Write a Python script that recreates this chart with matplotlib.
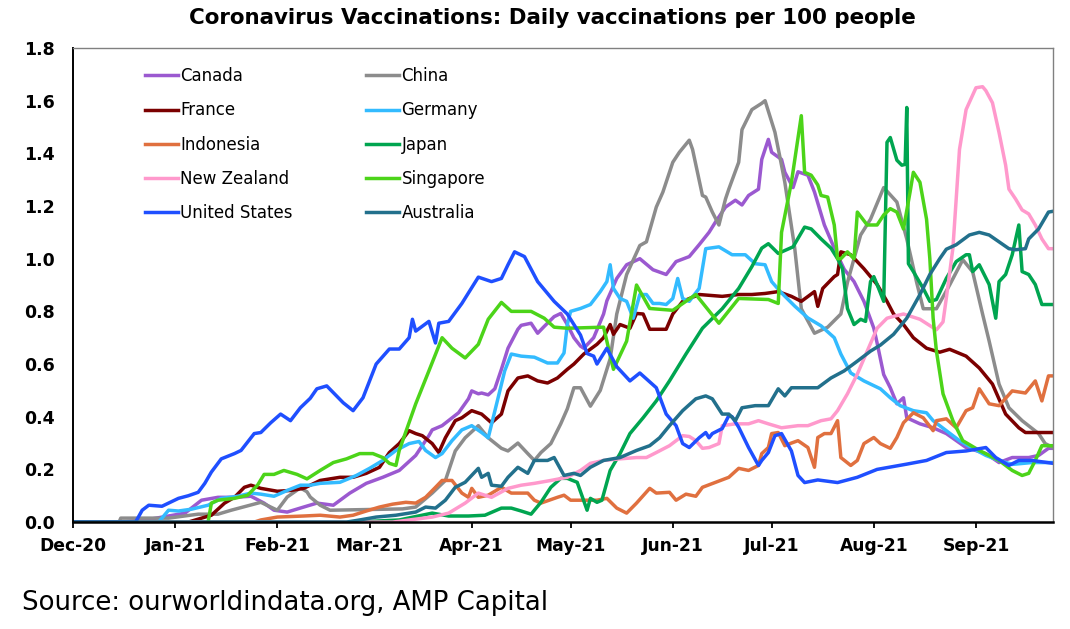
import matplotlib.pyplot as plt
import matplotlib.dates as mdates
import pandas as pd

# days counted from 1 Dec 2020, values = daily vaccinations per 100 people
start = pd.Timestamp("2020-12-01")

canada_d = [0, 15, 23, 34, 39, 44, 49, 54, 58, 61, 65, 70, 74, 79, 84, 89, 94, 99, 104, 108, 109, 112, 117, 120,
            121, 123, 124, 126, 128, 130, 132, 135, 136, 139, 141, 143, 146, 148, 150, 152, 154, 155, 158, 161,
            162, 165, 168, 172, 176, 180, 183, 187, 190, 193, 195, 198, 201, 203, 205, 208, 209, 211, 212, 215,
            216, 218.5, 220, 223, 225, 228, 231, 234, 237, 240, 243, 244, 246, 248, 250, 252, 253, 257, 261,
            265, 271, 277, 281, 285, 290, 293, 296, 297.4]
canada_v = [0, 0, 0.01, 0.034, 0.083, 0.094, 0.094, 0.098, 0.072, 0.045, 0.038, 0.057, 0.072, 0.064, 0.11,
            0.147, 0.17, 0.196, 0.253, 0.328, 0.35, 0.366, 0.415, 0.468, 0.498, 0.487, 0.49, 0.483, 0.506, 0.58,
            0.66, 0.732, 0.747, 0.755, 0.717, 0.743, 0.78, 0.792, 0.75, 0.70, 0.668, 0.66, 0.70, 0.79, 0.84,
            0.925, 0.977, 1.0, 0.958, 0.94, 0.989, 1.008, 1.053, 1.10, 1.14, 1.196, 1.222, 1.204, 1.24, 1.264,
            1.377, 1.453, 1.404, 1.377, 1.328, 1.27, 1.33, 1.317, 1.253, 1.128, 1.04, 0.96, 0.913, 0.838, 0.736,
            0.68, 0.56, 0.51, 0.449, 0.472, 0.396, 0.373, 0.358, 0.336, 0.283, 0.26, 0.226, 0.245, 0.245,
            0.253, 0.28, 0.28]

china_d = [0, 14, 14.5, 29, 38, 44, 48, 57, 62, 65, 69, 71, 72, 75, 78, 100, 104, 109, 113, 116, 119, 123,
           126, 130, 132, 135, 138, 140, 142, 145, 148, 150, 152, 154, 157, 160, 163, 165, 168, 172, 174, 177,
           179, 182, 184, 187, 188, 191, 192, 194, 196, 198, 199, 202, 203, 206, 209, 210, 213, 214.6, 216,
           219, 221, 225, 229, 233, 235, 239, 242, 246, 250, 253, 256, 258, 262, 266, 270, 273, 276, 278, 281,
           284, 288, 293, 295, 297.4]
china_v = [0, 0, 0.015, 0.015, 0.03, 0.03, 0.045, 0.075, 0.045, 0.095, 0.13, 0.115, 0.095, 0.064, 0.045,
           0.05, 0.057, 0.11, 0.158, 0.27, 0.32, 0.366, 0.32, 0.28, 0.27, 0.30, 0.26, 0.234, 0.264, 0.298,
           0.373, 0.43, 0.51, 0.51, 0.44, 0.50, 0.62, 0.79, 0.94, 1.05, 1.064, 1.196, 1.253, 1.366, 1.404, 1.45,
           1.415, 1.24, 1.234, 1.177, 1.128, 1.227, 1.264, 1.366, 1.49, 1.566, 1.59, 1.60, 1.48, 1.38, 1.29,
           1.04, 0.81, 0.717, 0.74, 0.79, 0.91, 1.09, 1.15, 1.27, 1.215, 1.075, 0.91, 0.81, 0.81, 0.90, 0.996,
           0.95, 0.79, 0.687, 0.524, 0.434, 0.385, 0.336, 0.298, 0.283]

france_d = [0, 35, 42, 46, 49, 52, 54, 57, 62, 66, 70, 75, 81, 85, 89, 93, 96, 99, 102, 104, 106, 109, 111,
            113, 116, 118, 121, 124, 127, 130, 132, 135, 138, 141, 144, 147, 150, 152, 155, 159, 161, 163, 164,
            166, 169, 171, 173, 175, 180, 182, 185, 190, 197, 202, 206, 210, 214, 218, 221, 225, 226, 227.5,
            231, 232, 233, 236, 240, 244, 247, 249, 252, 255, 259, 263, 266, 271, 275, 279, 283, 287, 289, 297.4]
france_v = [0, 0, 0.026, 0.072, 0.094, 0.132, 0.14, 0.128, 0.117, 0.12, 0.128, 0.158, 0.17, 0.17, 0.185,
            0.208, 0.264, 0.298, 0.347, 0.336, 0.328, 0.298, 0.264, 0.32, 0.385, 0.396, 0.423, 0.41, 0.377, 0.41,
            0.498, 0.547, 0.555, 0.536, 0.528, 0.547, 0.58, 0.60, 0.638, 0.675, 0.70, 0.75, 0.713, 0.75, 0.736,
            0.792, 0.79, 0.732, 0.732, 0.79, 0.838, 0.864, 0.857, 0.864, 0.864, 0.868, 0.875, 0.857, 0.838,
            0.875, 0.819, 0.887, 0.932, 0.94, 1.026, 1.015, 0.962, 0.902, 0.838, 0.79, 0.75, 0.70, 0.66, 0.645,
            0.656, 0.63, 0.585, 0.524, 0.41, 0.358, 0.34, 0.34]

germany_d = [0, 26, 29, 32, 36, 41, 45, 50, 54, 57, 61, 65, 69, 72, 75, 81, 86, 90, 94, 98, 102, 105, 107, 110,
             112, 115, 118, 121, 124, 126, 129, 131, 133, 136, 140, 144, 147, 149, 150, 151, 154, 157, 160, 162,
             163, 164, 166, 168, 170, 172, 174, 176, 178, 180, 182, 183.5, 185, 187, 190, 192, 196, 200, 204,
             207, 210, 212, 215, 219, 223, 227, 231, 233, 236, 240, 245, 248, 251, 255, 259, 261, 265, 269, 273,
             277, 281, 285, 291, 297.4]
germany_v = [0, 0, 0.045, 0.042, 0.049, 0.064, 0.09, 0.098, 0.11, 0.106, 0.098, 0.12, 0.14, 0.14, 0.147,
             0.151, 0.177, 0.204, 0.234, 0.272, 0.298, 0.306, 0.272, 0.245, 0.26, 0.309, 0.35, 0.366, 0.34, 0.32,
             0.472, 0.574, 0.638, 0.63, 0.626, 0.604, 0.604, 0.642, 0.75, 0.80, 0.811, 0.826, 0.875, 0.913, 0.977,
             0.887, 0.849, 0.838, 0.774, 0.864, 0.864, 0.83, 0.83, 0.826, 0.849, 0.925, 0.849, 0.838, 0.887,
             1.038, 1.045, 1.015, 1.015, 0.981, 0.977, 0.913, 0.87, 0.82, 0.775, 0.745, 0.70, 0.638, 0.566,
             0.536, 0.506, 0.472, 0.442, 0.423, 0.415, 0.385, 0.347, 0.309, 0.28, 0.253, 0.234, 0.219, 0.226,
             0.226]

indonesia_d = [0, 55, 57, 62, 70, 75, 81, 85, 89, 93, 97, 101, 104, 107, 110, 112, 115, 118, 120, 121, 123,
               126, 130, 133, 138, 140, 142, 147, 149, 151, 155, 159, 162, 165, 168, 171, 175, 177, 181, 183, 186,
               189, 191, 195, 199, 202, 205, 208, 209, 211, 212, 214, 216, 218, 220, 223, 225, 226, 228, 230, 232,
               233, 236, 238, 240, 243, 245, 248, 250, 252, 255, 258, 261, 262, 265, 268, 271, 273, 275, 278, 281,
               285, 289, 292, 294, 296, 297.4]
indonesia_v = [0, 0, 0.008, 0.019, 0.023, 0.026, 0.019, 0.026, 0.042, 0.057, 0.068, 0.075, 0.072, 0.094,
               0.132, 0.158, 0.158, 0.11, 0.094, 0.128, 0.094, 0.102, 0.132, 0.11, 0.11, 0.083, 0.072, 0.094,
               0.102, 0.083, 0.083, 0.083, 0.09, 0.053, 0.034, 0.072, 0.128, 0.11, 0.113, 0.083, 0.106, 0.098,
               0.132, 0.151, 0.17, 0.204, 0.196, 0.215, 0.26, 0.283, 0.336, 0.34, 0.29, 0.30, 0.309, 0.283, 0.208,
               0.321, 0.336, 0.336, 0.385, 0.245, 0.215, 0.234, 0.298, 0.321, 0.298, 0.28, 0.321, 0.377, 0.415,
               0.396, 0.347, 0.385, 0.392, 0.358, 0.423, 0.434, 0.506, 0.449, 0.442, 0.498, 0.49, 0.536, 0.46,
               0.555, 0.555]

japan_d = [0, 86, 99, 109, 114, 120, 125, 130, 133, 136, 139, 142, 145, 148, 150, 153, 156, 157, 159, 160.5,
           163, 166, 169, 173, 177, 181, 186, 191, 197, 202, 206, 209, 211, 214, 218.5, 222, 224, 227, 230, 232,
           233.5, 235, 237, 239, 240.5, 242, 243, 244, 246, 247, 248, 250, 251.5, 252.5, 253, 253.5, 255, 258,
           260, 262, 265, 268, 271, 272, 273, 275, 278, 280, 281, 283, 285, 287, 288, 290, 292, 294, 297.4]
japan_v = [0, 0, 0.008, 0.034, 0.023, 0.023, 0.026, 0.053, 0.053, 0.042, 0.03, 0.075, 0.132, 0.166, 0.166,
           0.151, 0.045, 0.09, 0.075, 0.083, 0.196, 0.26, 0.336, 0.396, 0.46, 0.536, 0.638, 0.736, 0.81, 0.887,
           0.97, 1.04, 1.057, 1.02, 1.045, 1.12, 1.113, 1.075, 1.04, 1.0, 0.962, 0.811, 0.75, 0.77, 0.762,
           0.913, 0.932, 0.902, 0.838, 1.442, 1.46, 1.374, 1.355, 1.358, 1.574, 0.981, 0.951, 0.887, 0.838,
           0.845, 0.925, 0.989, 1.015, 1.015, 0.951, 0.977, 0.902, 0.774, 0.913, 0.94, 1.015, 1.128, 0.951,
           0.94, 0.902, 0.826, 0.826]

nz_d = [0, 97, 109, 114, 119, 123, 127, 132, 136, 140, 145, 150, 154, 157, 161, 166, 171, 174, 177, 181, 185,
        187, 189, 191, 193, 196, 197, 201, 205, 208, 211, 215, 220, 223, 227, 230, 232, 235, 238, 241, 244, 247,
        249, 252, 257, 262, 264, 265, 267, 268, 269, 271, 274, 276, 277, 279, 281, 283, 284, 286, 288, 290, 292,
        294, 296, 297.4]
nz_v = [0, 0, 0.019, 0.034, 0.072, 0.11, 0.094, 0.128, 0.14, 0.147, 0.158, 0.17, 0.196, 0.223, 0.234, 0.24,
        0.245, 0.245, 0.264, 0.29, 0.328, 0.325, 0.309, 0.28, 0.283, 0.298, 0.366, 0.373, 0.373, 0.385, 0.373,
        0.358, 0.366, 0.366, 0.385, 0.392, 0.423, 0.487, 0.562, 0.649, 0.736, 0.774, 0.781, 0.79, 0.77, 0.73,
        0.76, 0.85, 1.04, 1.227, 1.415, 1.566, 1.649, 1.653, 1.638, 1.592, 1.479, 1.355, 1.264, 1.227, 1.185,
        1.17, 1.128, 1.075, 1.038, 1.038]

singapore_d = [41, 42, 44, 49, 53, 56, 58, 61, 64, 68, 71, 75, 79, 83, 87, 91, 94, 96, 98, 99, 104, 108, 112,
               115, 119, 123, 126, 130, 133, 139, 143, 146, 150, 161, 164, 168, 171, 175, 182, 189, 196, 202, 211,
               214, 215, 218, 221, 222, 224, 226, 227, 229, 231, 232, 233, 235, 237, 238, 241, 244, 246, 248, 250,
               252, 254, 255, 257, 259, 260, 261, 262, 264, 267, 270, 275, 281, 285, 288, 290, 292, 294, 297.4]
singapore_v = [0, 0.072, 0.083, 0.09, 0.102, 0.14, 0.181, 0.181, 0.196, 0.181, 0.164, 0.196, 0.226, 0.24,
               0.26, 0.26, 0.245, 0.223, 0.215, 0.272, 0.449, 0.574, 0.70, 0.66, 0.623, 0.675, 0.77, 0.834, 0.80,
               0.80, 0.774, 0.74, 0.736, 0.74, 0.58, 0.687, 0.90, 0.811, 0.804, 0.864, 0.755, 0.849, 0.845, 0.83,
               1.10, 1.29, 1.543, 1.328, 1.317, 1.28, 1.24, 1.234, 1.128, 1.0, 1.0, 1.026, 1.0, 1.177, 1.128,
               1.128, 1.166, 1.19, 1.177, 1.113, 1.253, 1.328, 1.29, 1.15, 1.0, 0.774, 0.649, 0.487, 0.385,
               0.309, 0.272, 0.234, 0.196, 0.177, 0.185, 0.234, 0.29, 0.29]

us_d = [0, 19, 21, 23, 27, 32, 35, 38, 40, 42, 45, 49, 51, 55, 57, 60, 63, 66, 69, 72, 74, 77, 82, 85, 88, 92,
        96, 99, 102, 103, 104, 108, 110, 111, 114, 118, 123, 127, 130, 132, 134, 137, 141, 146, 150, 154, 156,
        158, 159, 162, 165, 169, 172, 177, 180, 183, 185, 187, 190, 192, 193, 194, 197, 199, 200, 202, 205, 208,
        209, 211, 213, 215, 218, 220, 222, 226, 232, 238, 244, 253, 259, 265, 271, 277, 280, 284, 287, 291,
        297.4]
us_v = [0, 0, 0.045, 0.064, 0.06, 0.09, 0.10, 0.113, 0.147, 0.19, 0.24, 0.26, 0.272, 0.336, 0.34, 0.377, 0.41,
        0.385, 0.434, 0.47, 0.506, 0.517, 0.453, 0.423, 0.472, 0.60, 0.657, 0.657, 0.70, 0.77, 0.725, 0.762,
        0.68, 0.755, 0.762, 0.83, 0.93, 0.913, 0.925, 0.977, 1.026, 1.008, 0.913, 0.838, 0.79, 0.71, 0.64, 0.63,
        0.60, 0.66, 0.59, 0.536, 0.566, 0.51, 0.41, 0.366, 0.298, 0.283, 0.32, 0.34, 0.32, 0.336, 0.355, 0.404,
        0.40, 0.36, 0.283, 0.215, 0.234, 0.264, 0.328, 0.336, 0.27, 0.177, 0.15, 0.16, 0.15, 0.17, 0.20, 0.22,
        0.234, 0.264, 0.27, 0.283, 0.245, 0.215, 0.234, 0.234, 0.223]

australia_d = [0, 83, 87, 92, 98, 104, 107, 110, 113, 116, 119, 123, 124, 126, 127, 130, 132, 135, 138, 140, 144,
               146, 149, 152, 154, 157, 161, 166, 171, 175, 178, 181, 185, 189, 192, 194, 197, 199, 201, 203, 207,
               211, 214, 216, 218, 222, 226, 230, 234, 238, 242, 245, 249, 253, 257, 260, 263, 265, 268, 272, 275,
               278, 281, 284, 286, 289, 290, 293, 296, 297.4]
australia_v = [0, 0, 0.008, 0.019, 0.026, 0.038, 0.057, 0.053, 0.083, 0.132, 0.151, 0.204, 0.17, 0.185, 0.14,
               0.136, 0.17, 0.208, 0.185, 0.234, 0.234, 0.245, 0.177, 0.185, 0.177, 0.208, 0.234, 0.245, 0.272,
               0.29, 0.32, 0.366, 0.423, 0.468, 0.479, 0.468, 0.41, 0.41, 0.385, 0.434, 0.442, 0.442, 0.506,
               0.479, 0.51, 0.51, 0.51, 0.547, 0.574, 0.611, 0.649, 0.672, 0.713, 0.774, 0.864, 0.94, 1.0, 1.036,
               1.053, 1.09, 1.10, 1.09, 1.064, 1.038, 1.034, 1.038, 1.075, 1.113, 1.177, 1.18]

series = [
    ("Canada", canada_d, canada_v, "#9b59d0"),
    ("China", china_d, china_v, "#8c8c8c"),
    ("France", france_d, france_v, "#7b0000"),
    ("Germany", germany_d, germany_v, "#33bbff"),
    ("Indonesia", indonesia_d, indonesia_v, "#e0703f"),
    ("Japan", japan_d, japan_v, "#00a550"),
    ("New Zealand", nz_d, nz_v, "#ff99cc"),
    ("Singapore", singapore_d, singapore_v, "#4cd419"),
    ("United States", us_d, us_v, "#1f4fff"),
    ("Australia", australia_d, australia_v, "#22708c"),
]

fig = plt.figure(figsize=(10.7, 6.29), dpi=100)
ax = fig.add_axes([0.0682, 0.170, 0.916, 0.7537])

lines = {}
for name, d, v, c in series:
    x = start + pd.to_timedelta(d, unit="D")
    ln, = ax.plot(x, v, color=c, lw=2.5, label=name, solid_joinstyle="round")
    lines[name] = ln

ax.set_ylim(0, 1.8)
ax.set_xlim(start, start + pd.Timedelta(days=297.4))
ax.set_yticks([i * 0.2 for i in range(10)])
ax.yaxis.set_major_formatter(plt.FormatStrFormatter("%.1f"))
ax.xaxis.set_major_locator(mdates.MonthLocator())
ax.xaxis.set_major_formatter(mdates.DateFormatter("%b-%y"))

ax.tick_params(axis="y", length=0, pad=13, labelsize=12.5)
ax.tick_params(axis="x", length=4, width=1.3, pad=7, labelsize=12.3, direction="out")
for lab in ax.get_xticklabels() + ax.get_yticklabels():
    lab.set_fontweight("bold")

for s in ["top", "right"]:
    ax.spines[s].set_color("#808080")
    ax.spines[s].set_linewidth(1)
ax.spines["left"].set_linewidth(1.4)
ax.spines["bottom"].set_linewidth(1.8)

order = ["Canada", "France", "Indonesia", "New Zealand", "United States",
         "China", "Germany", "Japan", "Singapore", "Australia"]
fig.legend([lines[n] for n in order], order, ncol=2, frameon=False,
           loc="upper left", bbox_to_anchor=(0.1355, 0.893), bbox_transform=fig.transFigure,
           borderpad=0, borderaxespad=0, fontsize=12, handlelength=2.0, handletextpad=0.12,
           columnspacing=4.4, labelspacing=0.97)

fig.text(0.516, 0.971, "Coronavirus Vaccinations: Daily vaccinations per 100 people",
         ha="center", va="center", fontsize=15.4, fontweight="bold")
fig.text(0.0205, 1 - 603 / 629, "Source: ourworldindata.org, AMP Capital",
         ha="left", va="center", fontsize=18.7)

fig.savefig("out.png", dpi=100)
